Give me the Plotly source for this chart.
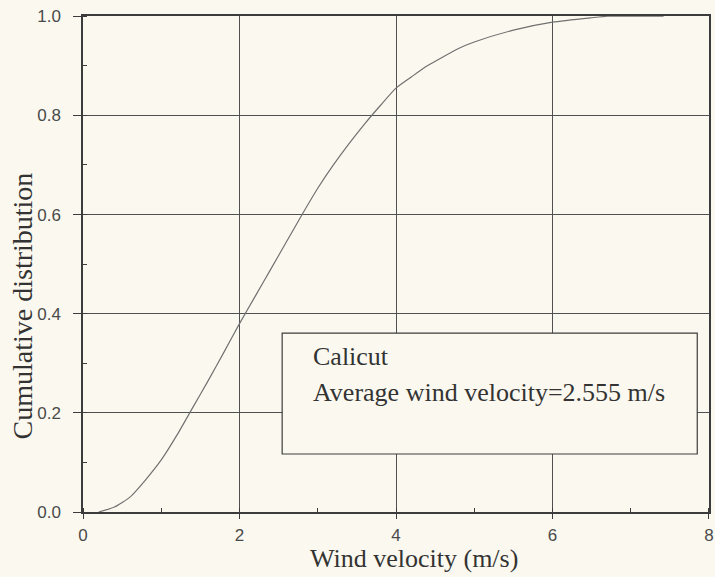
import plotly.graph_objects as go

# Values
wind_velocity = [0.2, 0.4, 0.6, 0.8, 1.0, 1.2, 1.4, 1.6, 1.8, 2.0, 2.2, 2.4, 2.6,
                 2.8, 3.0, 3.2, 3.4, 3.6, 3.8, 4.0, 4.2, 4.4, 4.6, 4.8, 5.0,
                 5.5, 6.0, 6.5, 6.7, 7.0, 7.42]
cumulative = [0.0, 0.01, 0.03, 0.065, 0.105, 0.155, 0.21, 0.265, 0.322, 0.38, 0.435,
              0.49, 0.545, 0.6, 0.653, 0.70, 0.743, 0.783, 0.82, 0.855, 0.878,
              0.9, 0.918, 0.935, 0.948, 0.972, 0.988, 0.997, 1.0, 1.0, 1.0]

x_ticks = [0, 2, 4, 6, 8]
y_ticks = [0.0, 0.2, 0.4, 0.6, 0.8, 1.0]
y_tick_text = ['0.0', '0.2', '0.4', '0.6', '0.8', '1.0']

box_lines = ['Calicut', 'Average wind velocity=2.555 m/s']

PAPER = '#fbf9ef'
INK = '#3c3c3c'
GRID = '#505050'
TEXT = '#333333'
SERIF = 'Liberation Serif'
SANS = 'Liberation Sans'

fig = go.Figure()

fig.add_trace(go.Scatter(
    x=wind_velocity,
    y=cumulative,
    mode='lines',
    line=dict(color='#707070', width=1.2, shape='spline', smoothing=0.6),
    showlegend=False
))

# text box (filled so grid lines stop at its edge)
fig.add_shape(type='rect', xref='x', yref='y',
              x0=2.545, x1=7.85, y0=0.117, y1=0.361,
              line=dict(color=INK, width=1.2), fillcolor=PAPER, layer='above')

fig.add_annotation(x=2.92, y=0.314, xref='x', yref='y', text=box_lines[0],
                   showarrow=False, xanchor='left', yanchor='middle',
                   font=dict(family=SERIF, size=26, color=TEXT))
fig.add_annotation(x=2.92, y=0.242, xref='x', yref='y', text=box_lines[1],
                   showarrow=False, xanchor='left', yanchor='middle',
                   font=dict(family=SERIF, size=26, color=TEXT))

# axis titles placed as annotations (positions)
fig.add_annotation(x=0.529, y=-0.094, xref='paper', yref='paper',
                   text='Wind velocity (m/s)', showarrow=False,
                   xanchor='center', yanchor='middle',
                   font=dict(family=SERIF, size=26, color=TEXT))
fig.add_annotation(x=-0.097, y=0.415, xref='paper', yref='paper',
                   text='Cumulative distribution', showarrow=False, textangle=-90,
                   xanchor='center', yanchor='middle',
                   font=dict(family=SERIF, size=28, color=TEXT))

axis_common = dict(
    showgrid=True, gridcolor=GRID, gridwidth=1,
    showline=True, linecolor=INK, linewidth=1.5, mirror=True,
    ticks='outside', tickcolor=INK,
    zeroline=False, automargin=False, ticklabeloverflow='allow',
    tickfont=dict(family=SANS, size=17, color='#4a4a4a'),
)

fig.update_xaxes(
    range=[-0.0001, 8.0001], tickvals=x_ticks, ticklen=5, ticklabelstandoff=2,
    minor=dict(dtick=1, ticks='inside', ticklen=4, tickcolor=INK, showgrid=False),
    **axis_common
)
fig.update_yaxes(
    range=[0, 1.0005], tickvals=y_ticks, ticktext=y_tick_text,
    ticklen=8, ticklabelstandoff=9,
    minor=dict(dtick=0.1, ticks='inside', ticklen=4, tickcolor=INK, showgrid=False),
    **axis_common
)

fig.update_layout(
    width=715, height=577,
    margin=dict(l=83, r=6, t=16, b=65),
    paper_bgcolor=PAPER,
    plot_bgcolor=PAPER,
)

# drop the default 8px page margin so the figure fills the window exactly
fig.write_html('out.html', config={'displayModeBar': False},
               post_script="document.body.style.margin='0px';")
